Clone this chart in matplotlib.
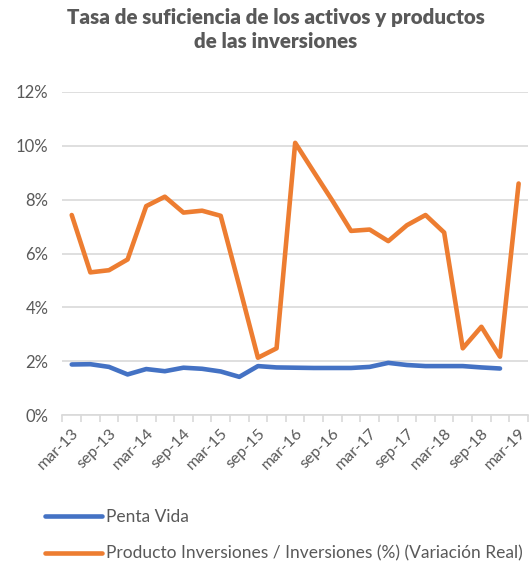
import matplotlib
matplotlib.use("Agg")
import matplotlib.pyplot as plt
import numpy as np
from matplotlib.ticker import FuncFormatter, MultipleLocator

quarters = ["mar-13", "jun-13", "sep-13", "dec-13", "mar-14", "jun-14", "sep-14", "dec-14",
            "mar-15", "jun-15", "sep-15", "dec-15", "mar-16", "jun-16", "sep-16", "dec-16",
            "mar-17", "jun-17", "sep-17", "dec-17", "mar-18", "jun-18", "sep-18", "dec-18",
            "mar-19"]
penta_vida = [1.88, 1.89, 1.79, 1.51, 1.71, 1.63, 1.76, 1.72, 1.62, 1.42, 1.82, 1.77,
              1.76, 1.75, 1.75, 1.75, 1.79, 1.94, 1.86, 1.82, 1.82, 1.82, 1.77, 1.73, None]
producto_inv = [7.43, 5.30, 5.38, 5.78, 7.76, 8.11, 7.52, 7.59, 7.40, 4.79, 2.13, 2.48,
                10.11, 9.03, 7.96, 6.84, 6.89, 6.46, 7.05, 7.43, 6.78, 2.48, 3.28, 2.17, 8.60]
series_names = ["Penta Vida", "Producto Inversiones / Inversiones (%) (Variación Real)"]

plt.rcParams['font.family'] = ['Lato', 'DejaVu Sans']
gray = "#595959"
grid = "#D9D9D9"

fig = plt.figure(figsize=(5.29, 5.64), dpi=100)
ax = fig.add_axes([0.118, 0.264, 0.880, 0.573])

x = np.arange(len(quarters))
pv = np.array([np.nan if v is None else v for v in penta_vida], dtype=float)
pi = np.array(producto_inv, dtype=float)
l1, = ax.plot(x, pv, color="#4472C4", lw=3.3, solid_capstyle="round", solid_joinstyle="round", zorder=3)
l2, = ax.plot(x, pi, color="#ED7D31", lw=3.3, solid_capstyle="round", solid_joinstyle="round", zorder=3)

ax.set_ylim(0, 12)
ax.set_xlim(-0.5, len(quarters) - 0.5)
ax.yaxis.set_major_locator(MultipleLocator(2))
ax.yaxis.set_major_formatter(FuncFormatter(lambda v, p: f"{v:.0f}%"))
ax.grid(axis="y", color=grid, lw=1.2, zorder=0)
ax.set_axisbelow(True)

ax.set_xticks(x[::2])
ax.set_xticklabels(quarters[::2], rotation=45, ha="right", rotation_mode="anchor")
ax.set_xticks(np.arange(-0.5, len(quarters)), minor=True)
ax.tick_params(axis="x", which="major", length=0, pad=8, labelsize=11.5, labelcolor=gray)
ax.tick_params(axis="x", which="minor", length=5, color=grid, width=1.2)
ax.tick_params(axis="y", length=0, pad=10, labelsize=12, labelcolor=gray)

for s in ["top", "right", "left"]:
    ax.spines[s].set_visible(False)
ax.spines["bottom"].set_color(grid)
ax.spines["bottom"].set_linewidth(1.2)

fig.text(276 / 529, 1 - 8 / 564, "Tasa de suficiencia de los activos y productos\nde las inversiones",
         ha="center", va="top", fontsize=14.8, fontweight="heavy", color=gray, linespacing=1.3)

leg = fig.legend([l1, l2], series_names, loc="upper left", bbox_to_anchor=(38 / 529, 1 - 502 / 564),
                 frameon=False, fontsize=12.5, handlelength=3.3, handletextpad=0.2,
                 labelspacing=1.2, borderaxespad=0)
for t in leg.get_texts():
    t.set_color(gray)

fig.savefig("out.png", dpi=100)
